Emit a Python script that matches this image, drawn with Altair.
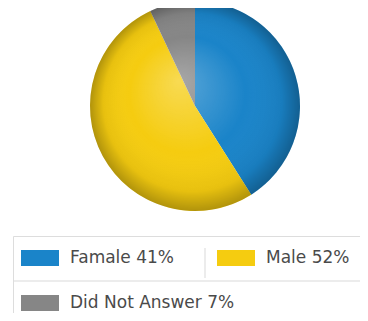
import altair as alt
import pandas as pd

categories = ["Famale", "Male", "Did Not Answer"]
values = [41, 52, 7]
colors = ["#1a84c9", "#f5cc10", "#868686"]

df = pd.DataFrame({"category": categories, "value": values, "order": [0, 1, 2]})
df["label"] = [f"{c} {v}%" for c, v in zip(categories, values)]
labels = list(df["label"])

CX, CY, R = 187, 98, 105

pie = alt.Chart(df).mark_arc(radius=R, strokeWidth=0).encode(
    theta=alt.Theta("value:Q", stack=True),
    color=alt.Color(
        "label:N",
        scale=alt.Scale(domain=labels, range=colors),
        sort=labels,
        legend=alt.Legend(
            title=None, orient="none", legendX=5, legendY=228,
            direction="horizontal", columns=2, gridAlign="none",
            symbolType="M-1,-0.42H1V0.42H-1Z", symbolSize=1444,
            symbolStrokeWidth=0, symbolOpacity=1,
            labelFontSize=17, labelFont="DejaVu Sans", labelColor="#4a4a4a",
            labelOffset=11, columnPadding=-23, rowPadding=18, padding=3,
            symbolOffset=5, labelLimit=300,
        ),
    ),
    order=alt.Order("order:Q"),
    x=alt.value(CX), y=alt.value(CY),
)

shade = alt.Chart(pd.DataFrame({"v": [1]})).mark_arc(
    radius=R, theta=0, theta2=6.2832,
    color={
        "gradient": "radial",
        "x1": 0.42, "y1": 0.38, "r1": 0,
        "x2": 0.5, "y2": 0.5, "r2": 0.5,
        "stops": [
            {"offset": 0, "color": "rgba(255,255,255,0.28)"},
            {"offset": 0.55, "color": "rgba(255,255,255,0.0)"},
            {"offset": 0.85, "color": "rgba(0,0,0,0.06)"},
            {"offset": 1, "color": "rgba(0,0,0,0.28)"},
        ],
    },
).encode(x=alt.value(CX), y=alt.value(CY))

seps = pd.DataFrame({"k": ["box", "h", "v"]})
box = alt.Chart(seps).transform_filter("datum.k == 'box'").mark_rect(
    fill="white", stroke="#dddddd", strokeWidth=1
).encode(x=alt.value(5.5), x2=alt.value(380), y=alt.value(228.5), y2=alt.value(330))
hline = alt.Chart(seps).transform_filter("datum.k == 'h'").mark_rule(
    color="#ececec", strokeWidth=2
).encode(x=alt.value(6), x2=alt.value(360), y=alt.value(273))
vline = alt.Chart(seps).transform_filter("datum.k == 'v'").mark_rule(
    color="#ececec", strokeWidth=2
).encode(x=alt.value(197), y=alt.value(240), y2=alt.value(270))

chart = alt.layer(box, hline, vline, pie, shade).properties(
    width=352, height=305, padding=0,
    autosize=alt.AutoSizeParams(type="none"),
).configure_view(stroke=None)

chart.save("out.html", embed_options={"renderer": "svg", "actions": False})
